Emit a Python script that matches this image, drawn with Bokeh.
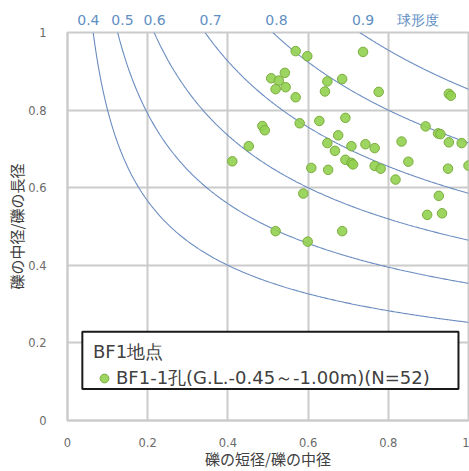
import numpy as np
from bokeh.plotting import figure
from bokeh.models import (Legend, LegendItem, FixedTicker, Range1d, ColumnDataSource,
                          LinearAxis, BoxAnnotation)
from bokeh.embed import file_html
from bokeh.resources import INLINE

# 礫の短径/礫の中径 (S/I)
si_ratio = [0.569, 0.598, 0.737, 0.542, 0.508, 0.527, 0.544, 0.519, 0.569, 0.648,
            0.685, 0.642, 0.776, 0.951, 0.956, 0.486, 0.492, 0.579, 0.628, 0.693,
            0.452, 0.411, 0.675, 0.648, 0.667, 0.708, 0.743, 0.766, 0.693, 0.708,
            0.766, 0.781, 0.608, 0.650, 0.833, 0.893, 0.924, 0.951, 0.983, 0.850,
            0.949, 1.000, 0.818, 0.926, 0.897, 0.934, 0.588, 0.519, 0.685, 0.599,
            0.930, 0.712]
# 礫の中径/礫の長径 (I/L)
il_ratio = [0.952, 0.939, 0.950, 0.896, 0.882, 0.876, 0.859, 0.854, 0.833, 0.874,
            0.880, 0.848, 0.847, 0.842, 0.837, 0.759, 0.748, 0.766, 0.772, 0.780,
            0.707, 0.668, 0.735, 0.715, 0.695, 0.707, 0.712, 0.702, 0.672, 0.664,
            0.656, 0.649, 0.651, 0.646, 0.719, 0.758, 0.740, 0.717, 0.715, 0.667,
            0.649, 0.657, 0.621, 0.579, 0.530, 0.534, 0.585, 0.488, 0.488, 0.461,
            0.738, 0.660]

sphericity = [0.4, 0.5, 0.6, 0.7, 0.8, 0.9]
sph_labels = ["0.4", "0.5", "0.6", "0.7", "0.8", "0.9"]
sph_title = "球形度"
tick_vals = [0, 0.2, 0.4, 0.6, 0.8, 1]
tick_labels = ["0", "0.2", "0.4", "0.6", "0.8", "1"]

CJK = "Noto Sans CJK JP"
LAT = "DejaVu Sans"
TXT = "#404040"
GRID = "#cbcbcb"
CURVE = "#6a8cc0"
SPH_TXT = "#5f8fc4"

p = figure(width=469, height=471, x_range=Range1d(0, 1), y_range=Range1d(0, 1),
           output_backend="svg", toolbar_location=None,
           min_border_left=67, min_border_right=1, min_border_top=32, min_border_bottom=46)
p.background_fill_color = "white"
p.border_fill_color = "white"
p.outline_line_color = GRID
p.outline_line_width = 2

for ax, lab in ((p.xaxis[0], "礫の短径/礫の中径"), (p.yaxis[0], "礫の中径/礫の長径")):
    ax.ticker = FixedTicker(ticks=tick_vals)
    ax.major_label_overrides = {v: t for v, t in zip(tick_vals, tick_labels)}
    ax.axis_label = lab
    ax.axis_label_text_font = CJK
    ax.axis_label_text_font_size = "15px"
    ax.axis_label_text_font_style = "normal"
    ax.axis_label_text_color = TXT
    ax.major_label_text_font = LAT
    ax.major_label_text_font_size = "11.5px"
    ax.major_label_text_color = "#6a6a6a"
    ax.axis_line_color = GRID
    ax.axis_line_width = 2
    ax.major_tick_line_color = None
    ax.major_tick_out = 0
    ax.major_tick_in = 0
    ax.minor_tick_line_color = None
p.xaxis.major_label_standoff = 17
p.yaxis.major_label_standoff = 21
p.xaxis.axis_label_standoff = -2
p.yaxis.axis_label_standoff = -2

p.grid.ticker = FixedTicker(ticks=tick_vals)
p.grid.grid_line_color = GRID
p.grid.grid_line_width = 2

# sphericity curves: psi = (S/I * (I/L)^2)^(1/3)
for s in sphericity:
    xs = np.linspace(s ** 3, 1, 300)
    ys = np.sqrt(s ** 3 / xs)
    p.line(xs, ys, line_color=CURVE, line_width=1.1)

# sphericity labels along the top, placed near each curve's top end
sph_pos = [0.052, 0.137, 0.217, 0.357, 0.521, 0.737, 0.873]
top_labels = sph_labels + [sph_title]
top = LinearAxis(ticker=FixedTicker(ticks=sph_pos),
                 major_label_overrides={v: t for v, t in zip(sph_pos, top_labels)})
top.axis_line_color = None
top.major_tick_line_color = None
top.minor_tick_line_color = None
top.major_tick_out = 0
top.major_tick_in = 0
top.major_label_standoff = 5
top.major_label_text_font = LAT
top.major_label_text_font_size = "14px"
top.major_label_text_color = SPH_TXT
p.add_layout(top, "above")

src = ColumnDataSource(dict(x=si_ratio, y=il_ratio))
r = p.scatter("x", "y", source=src, size=9.5, fill_color="#92D050", line_color="#7aad3e",
              line_width=1, fill_alpha=0.9)

# legend frame (white box with dark border)
p.add_layout(BoxAnnotation(left=0.037, right=0.975, bottom=0.081, top=0.229,
                           fill_color="white", fill_alpha=1,
                           line_color="#1a1a1a", line_width=2, line_alpha=1))

legend = Legend(items=[LegendItem(label="BF1-1孔(G.L.-0.45～-1.00m)(N=52)", renderers=[r])],
                title="BF1地点", location=(26, 30))
legend.title_text_font = LAT
legend.title_text_font_size = "18px"
legend.title_text_font_style = "normal"
legend.title_text_color = TXT
legend.label_text_font = LAT
legend.label_text_font_size = "18px"
legend.label_text_color = TXT
legend.border_line_color = None
legend.background_fill_alpha = 0
legend.padding = 0
legend.spacing = 0
legend.glyph_width = 22
legend.glyph_height = 22
legend.label_standoff = 1
legend.margin = 0
legend.title_standoff = 2
p.add_layout(legend)

open("out.html", "w").write(file_html(p, INLINE))
